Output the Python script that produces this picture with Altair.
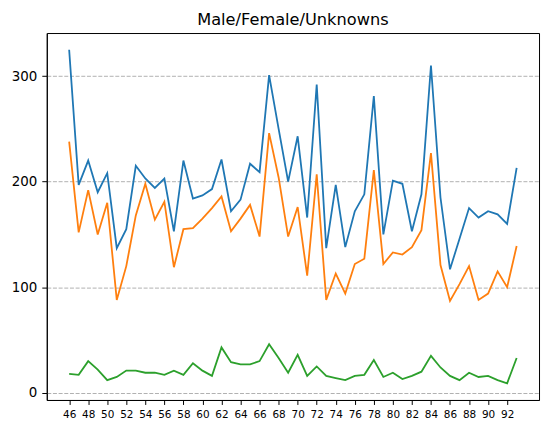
import altair as alt
import pandas as pd

years = list(range(46, 94))
male = [325, 197, 220, 190, 208, 137, 155, 215, 203, 194, 203, 153, 220, 184, 187, 193,
        221, 172, 183, 217, 209, 301, 250, 200, 243, 166, 292, 137, 197, 138, 172, 188,
        281, 150, 201, 198, 153, 188, 310, 185, 117, 146, 175, 166, 172, 169, 160, 213]
female = [238, 152, 192, 150, 180, 88, 120, 168, 198, 164, 181, 119, 155, 156, 165, 175,
          186, 153, 165, 178, 148, 246, 204, 148, 176, 111, 207, 88, 113, 94, 122, 127,
          211, 122, 133, 131, 138, 154, 227, 121, 87, 103, 120, 88, 94, 115, 100, 139]
unknown = [18, 17, 30, 22, 12, 15, 21, 21, 19, 19, 17, 21, 17, 28, 21, 16,
           43, 29, 27, 27, 30, 46, 33, 19, 36, 16, 25, 16, 14, 12, 16, 17,
           31, 15, 19, 13, 16, 20, 35, 24, 16, 12, 19, 15, 16, 12, 9, 33]
x_ticks = list(range(46, 93, 2))
y_ticks = [0, 100, 200, 300]
series_names = ["Male", "Female", "Unknown"]
colors = ["#1f77b4", "#ff7f0e", "#2ca02c"]

rows = []
for name, vals in zip(series_names, [male, female, unknown]):
    for yr, v in zip(years, vals):
        rows.append({"year": yr, "count": v, "series": name})
df = pd.DataFrame(rows)

font = "DejaVu Sans"

chart = alt.Chart(df).mark_line(strokeWidth=1.8).encode(
    x=alt.X("year:Q",
            scale=alt.Scale(domain=[43.65, 95.35], nice=False, zero=False),
            axis=alt.Axis(values=x_ticks, title=None, grid=False, labelFontSize=10.5,
                          tickSize=4.5, labelPadding=5, labelFlush=False,
                          labelOverlap=False)),
    y=alt.Y("count:Q",
            scale=alt.Scale(domain=[-6.8, 340.8], nice=False, zero=False),
            axis=alt.Axis(values=y_ticks, title=None, grid=True, gridDash=[4, 1.7],
                          gridColor="#b0b0b0", gridWidth=1, labelFontSize=13.5,
                          tickSize=5, labelPadding=5)),
    color=alt.Color("series:N", scale=alt.Scale(domain=series_names, range=colors),
                    legend=None),
    detail="series:N",
).properties(
    width=495,
    height=369,
    title=alt.TitleParams("Male/Female/Unknowns", fontSize=16.3, font=font,
                          fontWeight="normal", offset=5, color="black"),
    padding={"left": 3, "top": 2, "right": 5, "bottom": 5},
).configure_view(
    stroke="black", strokeWidth=1
).configure_axis(
    labelFont=font, domainColor="black", tickColor="black", labelColor="black",
    domainWidth=1, tickWidth=1
)

chart.save("out.html", embed_options={"renderer": "svg", "actions": False})
